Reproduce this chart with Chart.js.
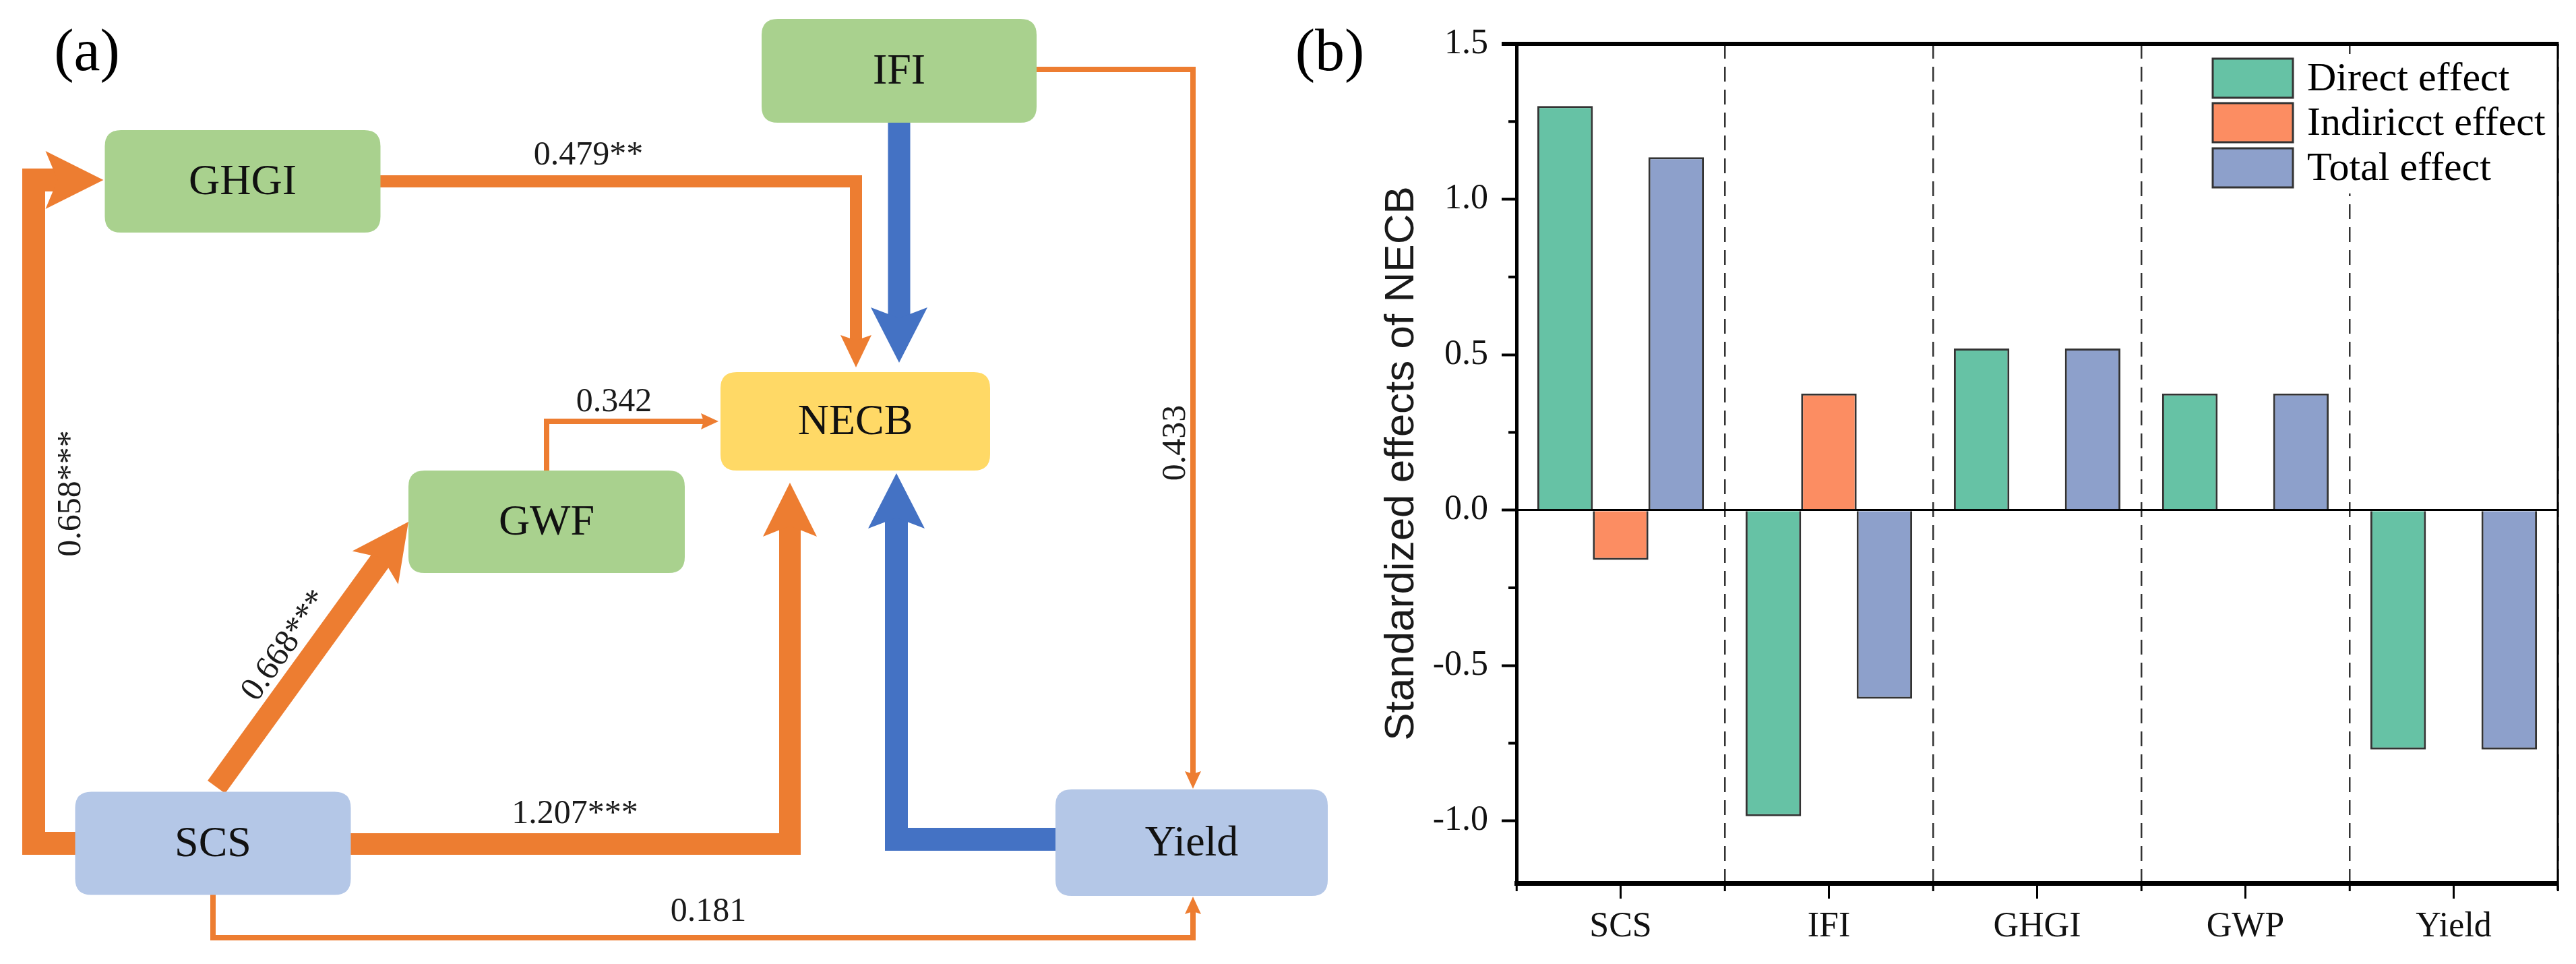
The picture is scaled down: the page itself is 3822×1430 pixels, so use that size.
<!DOCTYPE html>
<html>
<head>
<meta charset="utf-8">
<script src="https://cdn.jsdelivr.net/npm/chart.js@4.4.1/dist/chart.umd.min.js"></script>
<style>
html, body { margin: 0; padding: 0; background: #fff; width: 3822px; height: 1430px; overflow: hidden; }
#wrap { position: relative; width: 3822px; height: 1430px; }
canvas { position: absolute; top: 0; }
#diagram { left: 0; }
#effects { left: 1900px; }
</style>
</head>
<body>
<div id="wrap">
  <canvas id="diagram" width="2000" height="1430"></canvas>
  <canvas id="effects" width="1922" height="1430"></canvas>
</div>
<script>
// ================= DATA =================
// (a) path diagram
const nodeNames  = ['GHGI', 'IFI', 'NECB', 'GWF', 'SCS', 'Yield'];
const pathFrom   = ['SCS', 'SCS', 'SCS', 'GHGI', 'GWF', 'IFI', 'Yield', 'IFI', 'SCS'];
const pathTo     = ['GHGI', 'GWF', 'NECB', 'NECB', 'NECB', 'NECB', 'NECB', 'Yield', 'Yield'];
const pathLabels = ['0.658***', '0.668***', '1.207***', '0.479**', '0.342', '', '', '0.433', '0.181'];
const pathSign   = ['+', '+', '+', '+', '+', '-', '-', '+', '+'];

// (b) standardized effects
const effectCategories = ['SCS', 'IFI', 'GHGI', 'GWP', 'Yield'];
const seriesNames    = ['Direct effect', 'Indiricct effect', 'Total effect'];
const directEffect   = [1.30, -0.985, 0.52, 0.375, -0.77];
const indirectEffect = [-0.16, 0.375, 0, 0, 0];
const totalEffect    = [1.135, -0.607, 0.52, 0.375, -0.77];
const yTickValues    = [-1.0, -0.5, 0.0, 0.5, 1.0, 1.5];
const yMinorValues   = [-0.75, -0.25, 0.25, 0.75, 1.25];

// ================= LAYOUT / STYLE =================
const SERIF = '"Liberation Serif", "Times New Roman", serif';
const SANS  = '"Liberation Sans", Arial, sans-serif';
const GREEN = '#A9D18E', YELLOW = '#FFD966', LBLUE = '#B4C7E7';
const NODE_LAYOUT = {
  GHGI:  { cx: 360,  cy: 269,  w: 409, h: 152, fill: GREEN },
  IFI:   { cx: 1334, cy: 105,  w: 408, h: 154, fill: GREEN },
  NECB:  { cx: 1269, cy: 625,  w: 400, h: 146, fill: YELLOW },
  GWF:   { cx: 811,  cy: 774,  w: 410, h: 152, fill: GREEN },
  SCS:   { cx: 316,  cy: 1251, w: 409, h: 153, fill: LBLUE },
  Yield: { cx: 1768, cy: 1250, w: 404, h: 158, fill: LBLUE }
};
const LANE = { left: 50, scsNecbX: 1172, ghgiNecbX: 1270, yieldNecbX: 1330, ifiX: 1334, yieldX: 1770, bottomY: 1391, blueY: 1245, ifiY: 103 };
const EDGE_LAYOUT = [
  { w: 34, head: [86, 43, 18], label: { x: 106, y: 732, rot: -90 },
    route: N => [[N.SCS.l + 4, N.SCS.cy], [LANE.left, N.SCS.cy], [LANE.left, N.GHGI.cy - 2], [N.GHGI.l - 2, N.GHGI.cy - 2]] },
  { w: 32, head: [84, 42, 18], label: { x: 424, y: 958, rot: -54.8 },
    route: N => [[N.SCS.cx + 5, N.SCS.t - 7], [N.GWF.l, N.GWF.cy]] },
  { w: 32, head: [80, 40, 16], label: { x: 853, y: 1208, rot: 0 },
    route: N => [[N.SCS.r - 4, N.SCS.cy + 1], [LANE.scsNecbX, N.SCS.cy + 1], [LANE.scsNecbX, N.NECB.b + 18]] },
  { w: 18, head: [48, 23, 8], label: { x: 873, y: 231, rot: 0 },
    route: N => [[N.GHGI.r - 4, N.GHGI.cy], [LANE.ghgiNecbX, N.GHGI.cy], [LANE.ghgiNecbX, N.NECB.t - 7]] },
  { w: 8, head: [26, 12, 4], label: { x: 911, y: 597, rot: 0 },
    route: N => [[N.GWF.cx, N.GWF.t + 4], [N.GWF.cx, N.NECB.cy], [N.NECB.l - 3, N.NECB.cy]] },
  { w: 33, head: [82, 42, 16], label: null,
    route: N => [[LANE.ifiX, N.IFI.b - 4], [LANE.ifiX, N.NECB.t - 14]] },
  { w: 34, head: [82, 42, 16], label: null,
    route: N => [[N.Yield.l + 4, LANE.blueY], [LANE.yieldNecbX, LANE.blueY], [LANE.yieldNecbX, N.NECB.b + 4]] },
  { w: 8, head: [26, 12, 4], label: { x: 1745, y: 657, rot: -90 },
    route: N => [[N.IFI.r - 4, LANE.ifiY], [LANE.yieldX, LANE.ifiY], [LANE.yieldX, N.Yield.t - 1]] },
  { w: 8, head: [26, 12, 4], label: { x: 1051, y: 1353, rot: 0 },
    route: N => [[N.SCS.cx, N.SCS.b - 4], [N.SCS.cx, LANE.bottomY], [LANE.yieldX, LANE.bottomY], [LANE.yieldX, N.Yield.b + 1]] }
];
const SIGN_COLOR = { '+': '#ED7D31', '-': '#4472C4' };

Chart.defaults.font.family = SERIF;

// ================= (a) PATH DIAGRAM =================
const N = {};
nodeNames.forEach(n => {
  const g = NODE_LAYOUT[n];
  N[n] = Object.assign({}, g, { l: g.cx - g.w / 2, r: g.cx + g.w / 2, t: g.cy - g.h / 2, b: g.cy + g.h / 2 });
});

const arrowGeo = [];
const edgeDatasets = pathFrom.map((from, i) => {
  const L = EDGE_LAYOUT[i];
  const pts = L.route(N);
  const tip = pts[pts.length - 1], prev = pts[pts.length - 2];
  const dx = tip[0] - prev[0], dy = tip[1] - prev[1], d = Math.hypot(dx, dy);
  const ux = dx / d, uy = dy / d;
  const [hl, hw, nk] = L.head;
  const back = hl - nk - 2;
  const end = [tip[0] - ux * back, tip[1] - uy * back];
  arrowGeo.push({ tip, prev, head: L.head, color: SIGN_COLOR[pathSign[i]] });
  return {
    type: 'line',
    label: from + ' → ' + pathTo[i],
    data: pts.slice(0, -1).concat([end]).map(p => ({ x: p[0], y: p[1] })),
    borderColor: SIGN_COLOR[pathSign[i]],
    borderWidth: L.w,
    pointRadius: 0,
    tension: 0,
    fill: false,
    borderJoinStyle: 'miter',
    borderCapStyle: 'butt'
  };
});
const nodeDataset = {
  type: 'line',
  label: 'nodes',
  data: nodeNames.map(n => ({ x: N[n].cx, y: N[n].cy })),
  showLine: false,
  pointRadius: 0
};

function roundRect(ctx, x, y, w, h, r) {
  ctx.beginPath();
  ctx.moveTo(x + r, y);
  ctx.lineTo(x + w - r, y);
  ctx.quadraticCurveTo(x + w, y, x + w, y + r);
  ctx.lineTo(x + w, y + h - r);
  ctx.quadraticCurveTo(x + w, y + h, x + w - r, y + h);
  ctx.lineTo(x + r, y + h);
  ctx.quadraticCurveTo(x, y + h, x, y + h - r);
  ctx.lineTo(x, y + r);
  ctx.quadraticCurveTo(x, y, x + r, y);
  ctx.closePath();
}

const diagramPlugin = {
  id: 'diagramDecor',
  afterDatasetsDraw(chart) {
    const ctx = chart.ctx;
    const xs = chart.scales.x, ys = chart.scales.y;
    const px = v => xs.getPixelForValue(v), py = v => ys.getPixelForValue(v);
    ctx.save();
    // node boxes
    const nodeMeta = chart.getDatasetMeta(chart.data.datasets.length - 1);
    nodeNames.forEach((n, i) => {
      const el = nodeMeta.data[i];
      const g = N[n];
      const w = Math.abs(px(g.w) - px(0)), h = Math.abs(py(g.h) - py(0));
      ctx.fillStyle = g.fill;
      roundRect(ctx, el.x - w / 2, el.y - h / 2, w, h, 24);
      ctx.fill();
      ctx.fillStyle = '#111';
      ctx.font = '64px ' + SERIF;
      ctx.textAlign = 'center';
      ctx.textBaseline = 'middle';
      ctx.fillText(n, el.x, el.y + 2);
    });
    // arrow heads
    arrowGeo.forEach(a => {
      const tx = px(a.tip[0]), ty = py(a.tip[1]);
      const qx = px(a.prev[0]), qy = py(a.prev[1]);
      const dx = tx - qx, dy = ty - qy, d = Math.hypot(dx, dy);
      const ux = dx / d, uy = dy / d, nx = -uy, ny = ux;
      const [hl, hw, nk] = a.head;
      ctx.fillStyle = a.color;
      ctx.beginPath();
      ctx.moveTo(tx, ty);
      ctx.lineTo(tx - ux * hl + nx * hw, ty - uy * hl + ny * hw);
      ctx.lineTo(tx - ux * (hl - nk), ty - uy * (hl - nk));
      ctx.lineTo(tx - ux * hl - nx * hw, ty - uy * hl - ny * hw);
      ctx.closePath();
      ctx.fill();
    });
    // path coefficient labels
    ctx.fillStyle = '#1a1a1a';
    ctx.font = '50px ' + SERIF;
    ctx.textAlign = 'center';
    ctx.textBaseline = 'middle';
    pathLabels.forEach((t, i) => {
      const lb = EDGE_LAYOUT[i].label;
      if (!t || !lb) return;
      ctx.save();
      ctx.translate(px(lb.x), py(lb.y));
      ctx.rotate(lb.rot * Math.PI / 180);
      ctx.fillText(t, 0, 0);
      ctx.restore();
    });
    // panel tag
    ctx.fillStyle = '#000';
    ctx.font = '88px ' + SERIF;
    ctx.textBaseline = 'alphabetic';
    ctx.fillText('(a)', px(129), py(104));
    ctx.restore();
  }
};

new Chart(document.getElementById('diagram'), {
  type: 'line',
  data: { datasets: edgeDatasets.concat([nodeDataset]) },
  options: {
    responsive: false,
    animation: false,
    devicePixelRatio: 1,
    events: [],
    layout: { padding: 0, autoPadding: false },
    plugins: { legend: { display: false }, tooltip: { enabled: false } },
    scales: {
      x: { type: 'linear', display: false, min: 0, max: 2000 },
      y: { type: 'linear', display: false, min: 0, max: 1430, reverse: true }
    }
  },
  plugins: [diagramPlugin]
});

// ================= (b) EFFECTS BAR CHART =================
const SERIES_COLORS = ['#66C2A5', '#FC8D62', '#8DA0CB'];
const effectsPlugin = {
  id: 'effectsDecor',
  afterDraw(chart) {
    const { ctx, chartArea: a, scales: { x, y } } = chart;
    const line = (x1, y1, x2, y2) => { ctx.beginPath(); ctx.moveTo(x1, y1); ctx.lineTo(x2, y2); ctx.stroke(); };
    ctx.save();
    ctx.strokeStyle = '#000';
    // minor y ticks
    ctx.lineWidth = 4;
    yMinorValues.forEach(v => { const yy = y.getPixelForValue(v); line(a.left - 12, yy, a.left, yy); });
    // category centre ticks
    ctx.lineWidth = 3;
    effectCategories.forEach((c, i) => { const xx = x.getPixelForValue(i); line(xx, a.bottom, xx, a.bottom + 23); });
    // frame: top and right
    ctx.lineWidth = 6;
    line(a.left - 22, a.top, a.right + 1.5, a.top);
    ctx.lineWidth = 3;
    line(a.right, a.top, a.right, a.bottom + 10);
    // legend (opaque background hides dashed separator)
    const boxL = a.right - 512, boxW = 119, boxH = 58, textX = a.right - 372;
    const rowY = [a.top + 51, a.top + 117, a.top + 184];
    ctx.fillStyle = '#fff';
    ctx.fillRect(boxL - 10, a.top + 15, a.right - 6 - (boxL - 10), 207);
    chart.data.datasets.forEach((ds, i) => {
      ctx.fillStyle = ds.backgroundColor;
      ctx.fillRect(boxL, rowY[i] - boxH / 2, boxW, boxH);
      ctx.lineWidth = 3;
      ctx.strokeStyle = '#333';
      ctx.strokeRect(boxL, rowY[i] - boxH / 2, boxW, boxH);
      ctx.fillStyle = '#000';
      ctx.font = '60px ' + SERIF;
      ctx.textAlign = 'left';
      ctx.textBaseline = 'middle';
      ctx.fillText(ds.label, textX, rowY[i] + 2);
    });
    // panel tag
    ctx.fillStyle = '#000';
    ctx.font = '88px ' + SERIF;
    ctx.textAlign = 'center';
    ctx.textBaseline = 'alphabetic';
    ctx.fillText('(b)', 1973 - 1900, 104);
    ctx.restore();
  }
};

new Chart(document.getElementById('effects'), {
  type: 'bar',
  data: {
    labels: effectCategories,
    datasets: [
      { label: seriesNames[0], data: directEffect,   backgroundColor: SERIES_COLORS[0] },
      { label: seriesNames[1], data: indirectEffect, backgroundColor: SERIES_COLORS[1] },
      { label: seriesNames[2], data: totalEffect,    backgroundColor: SERIES_COLORS[2] }
    ]
  },
  options: {
    responsive: false,
    animation: false,
    devicePixelRatio: 1,
    events: [],
    layout: { padding: { left: 0, right: 27, top: 65, bottom: 0 }, autoPadding: false },
    datasets: { bar: { categoryPercentage: 0.8, barPercentage: 1.0, borderColor: '#333', borderWidth: 3 } },
    plugins: { legend: { display: false }, tooltip: { enabled: false } },
    scales: {
      x: {
        offset: true,
        grid: { display: true, drawOnChartArea: true, offset: true, color: '#333', lineWidth: 2.5,
                tickLength: 12, tickColor: '#000', tickWidth: 3 },
        border: { display: true, color: '#000', width: 7, dash: [22, 12] },
        ticks: { font: { family: SERIF, size: 52 }, color: '#111', padding: 22 },
        afterFit(s) { s.height = 120; }
      },
      y: {
        min: -1.2, max: 1.5,
        ticks: { font: { family: SERIF, size: 52 }, color: '#111', padding: 20, includeBounds: false,
                 callback: v => Number(v).toFixed(1) },
        afterBuildTicks(s) { s.ticks = yTickValues.map(v => ({ value: v })); },
        grid: { display: true, drawOnChartArea: true, lineWidth: 3, tickLength: 22, tickColor: '#000', tickWidth: 4,
                color: c => (c.tick && c.tick.value === 0) ? '#000' : 'rgba(0,0,0,0)' },
        border: { display: true, color: '#000', width: 5 },
        title: { display: true, text: 'Standardized effects of NECB', color: '#1a1a1a',
                 font: { family: SANS, size: 62 }, padding: { top: 143, bottom: 0 } },
        afterFit(s) { s.width = 350; }
      }
    }
  },
  plugins: [effectsPlugin]
});
</script>
</body>
</html>
